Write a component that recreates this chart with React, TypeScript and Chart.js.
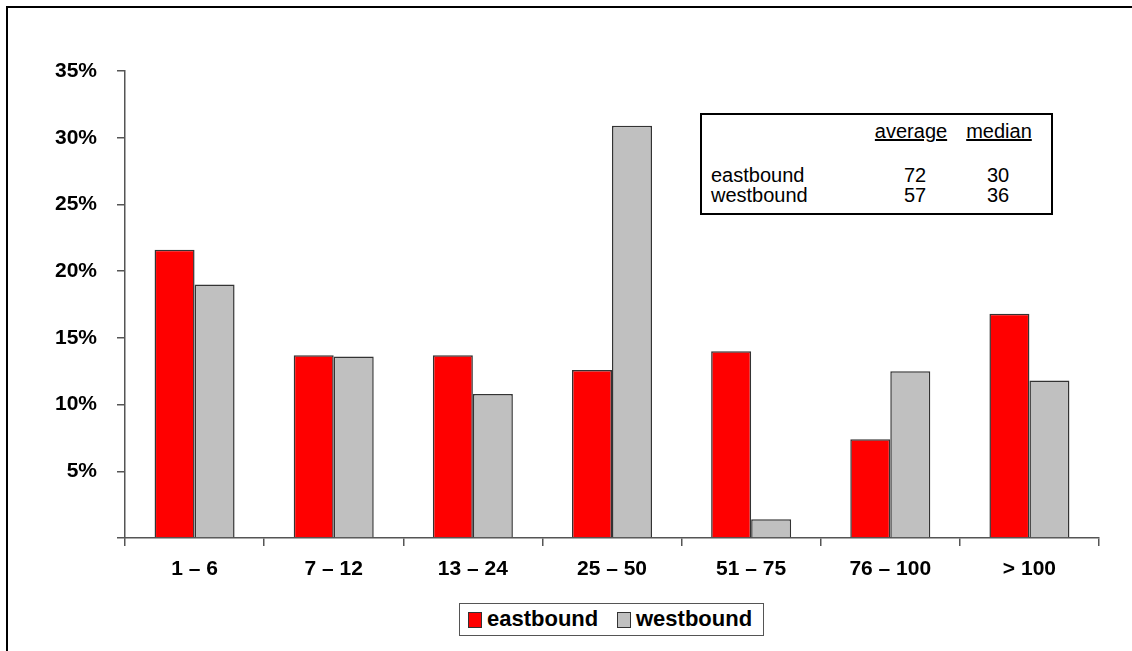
import React, { useEffect, useRef } from "react";
import { Chart, registerables } from "chart.js";

Chart.register(...registerables);

// Trip-length bands and share of trips per direction (%)
const categories = ["1 – 6", "7 – 12", "13 – 24", "25 – 50", "51 – 75", "76 – 100", "> 100"];
const eastbound = [21.6, 13.7, 13.7, 12.6, 14.0, 7.4, 16.8];
const westbound = [19.0, 13.6, 10.8, 30.9, 1.4, 12.5, 11.8];
const seriesNames = ["eastbound", "westbound"];

// Summary statistics shown in the inset table
const statHeaders = ["average", "median"];
const statRows = ["eastbound", "westbound"];
const statAverage = [72, 57];
const statMedian = [30, 36];

const yTickMax = 35;
const yTickStep = 5;

const RED = "#FF0000";
const GREY = "#C0C0C0";
const FONT = '"Liberation Sans", Arial, sans-serif';

export default function App() {
  const canvasRef = useRef<HTMLCanvasElement | null>(null);

  useEffect(() => {
    if (!canvasRef.current) return;
    const chart = new Chart(canvasRef.current, {
      type: "bar",
      data: {
        labels: categories,
        datasets: [
          {
            label: seriesNames[0],
            data: eastbound,
            backgroundColor: RED,
            borderColor: "#333333",
            borderWidth: 1.5,
          },
          {
            label: seriesNames[1],
            data: westbound,
            backgroundColor: GREY,
            borderColor: "#333333",
            borderWidth: 1.5,
          },
        ],
      },
      options: {
        responsive: false,
        animation: false,
        devicePixelRatio: 1,
        layout: { padding: { left: 0, top: 71, right: 33, bottom: 0 } },
        datasets: { bar: { categoryPercentage: 0.575, barPercentage: 1 } },
        plugins: {
          legend: { display: false },
          tooltip: { enabled: false },
        },
        scales: {
          x: {
            grid: {
              drawOnChartArea: false,
              drawTicks: true,
              tickLength: 8,
              color: "#555555",
              lineWidth: 1.5,
              offset: true,
            },
            border: { display: true, color: "#555555", width: 1.5 },
            ticks: {
              color: "#000000",
              padding: 11,
              font: { family: FONT, size: 21, weight: "bold" },
              maxRotation: 0,
            },
            afterFit: (scale: any) => {
              scale.height = 113;
            },
          },
          y: {
            min: 0,
            max: yTickMax,
            grid: {
              drawOnChartArea: false,
              drawTicks: true,
              tickLength: 8,
              color: "#555555",
              lineWidth: 1.5,
            },
            border: { display: true, color: "#555555", width: 1.5 },
            ticks: {
              stepSize: yTickStep,
              color: "#000000",
              padding: 20,
              font: { family: FONT, size: 21, weight: "bold" },
              callback: (v: any) => (Number(v) === 0 ? "" : `${v}%`),
            },
            afterFit: (scale: any) => {
              scale.width = 125;
            },
          },
        },
      },
    });
    return () => chart.destroy();
  }, []);

  const text: React.CSSProperties = {
    position: "absolute",
    fontFamily: FONT,
    fontSize: 20,
    color: "#000",
    lineHeight: "20px",
    whiteSpace: "nowrap",
  };

  return (
    <div
      style={{
        position: "fixed",
        left: 0,
        top: 0,
        width: 1132,
        height: 651,
        background: "#fff",
        overflow: "hidden",
      }}
    >
      {/* outer frame */}
      <div
        style={{
          position: "absolute",
          left: 6,
          top: 6,
          width: 1200,
          height: 700,
          borderLeft: "2px solid #000",
          borderTop: "2px solid #000",
        }}
      />
      <canvas
        ref={canvasRef}
        width={1132}
        height={651}
        style={{ position: "absolute", left: 0, top: 0, display: "block" }}
      />

      {/* summary table */}
      <div
        style={{
          position: "absolute",
          left: 700,
          top: 113,
          width: 349,
          height: 98,
          border: "2px solid #000",
          background: "#fff",
        }}
      />
      <div style={{ ...text, left: 871, top: 121, width: 80, textAlign: "center", textDecoration: "underline" }}>
        {statHeaders[0]}
      </div>
      <div style={{ ...text, left: 959, top: 121, width: 80, textAlign: "center", textDecoration: "underline" }}>
        {statHeaders[1]}
      </div>
      {statRows.map((r, i) => (
        <React.Fragment key={r}>
          <div style={{ ...text, left: 711, top: 165 + i * 20 }}>{r}</div>
          <div style={{ ...text, left: 885, top: 165 + i * 20, width: 60, textAlign: "center" }}>
            {statAverage[i]}
          </div>
          <div style={{ ...text, left: 968, top: 165 + i * 20, width: 60, textAlign: "center" }}>
            {statMedian[i]}
          </div>
        </React.Fragment>
      ))}

      {/* legend */}
      <div
        style={{
          position: "absolute",
          left: 459,
          top: 603,
          width: 303,
          height: 31,
          border: "1.5px solid #555",
          background: "#fff",
        }}
      />
      {[RED, GREY].map((c, i) => (
        <React.Fragment key={c}>
          <div
            style={{
              position: "absolute",
              left: i === 0 ? 468 : 617,
              top: 612,
              width: 12,
              height: 14,
              background: c,
              border: "1.5px solid #333",
            }}
          />
          <div
            style={{
              ...text,
              left: i === 0 ? 487 : 636,
              top: 607,
              fontSize: 22,
              fontWeight: "bold",
              lineHeight: "24px",
            }}
          >
            {seriesNames[i]}
          </div>
        </React.Fragment>
      ))}
    </div>
  );
}
